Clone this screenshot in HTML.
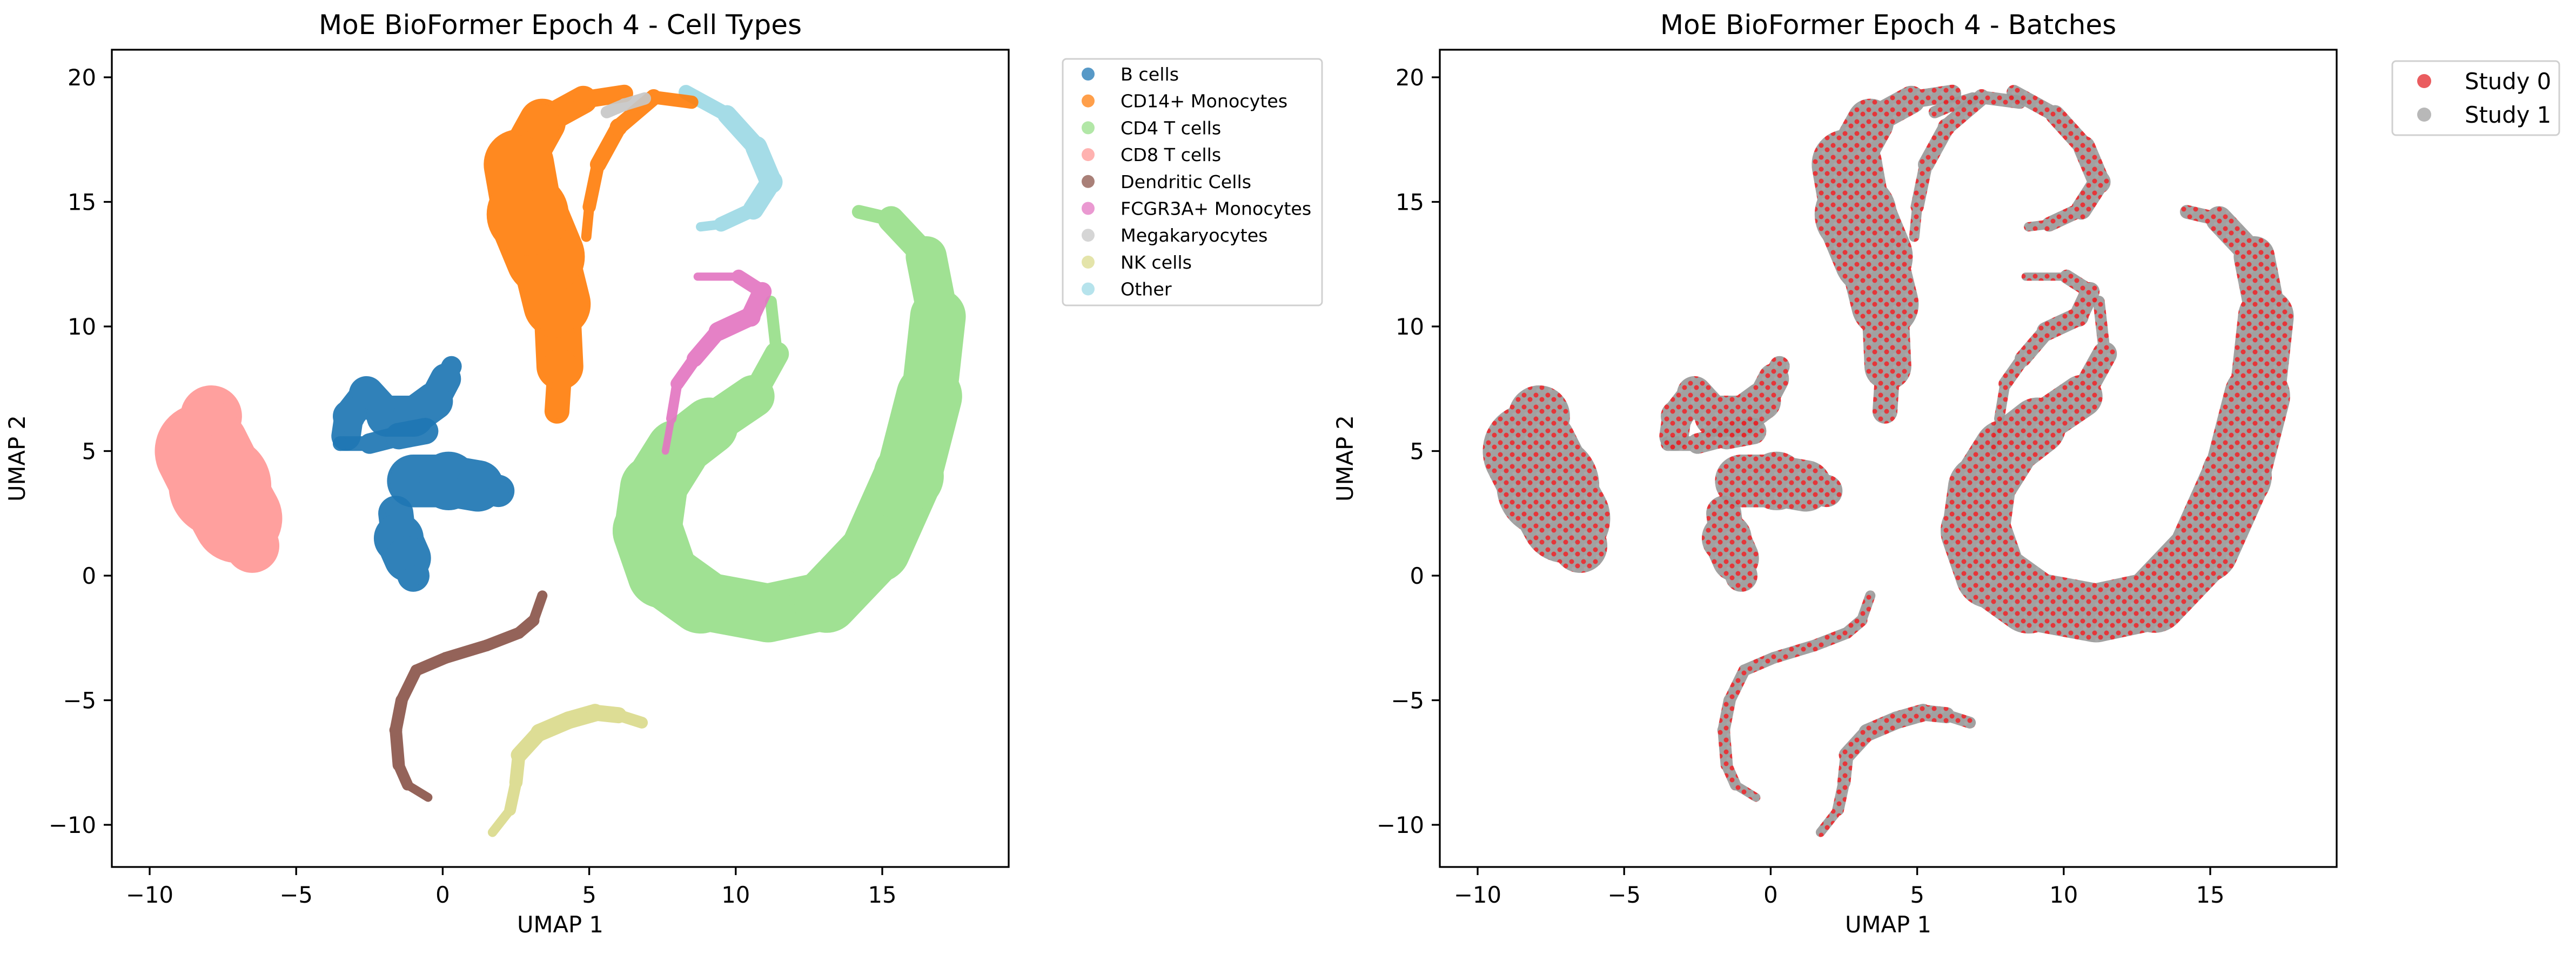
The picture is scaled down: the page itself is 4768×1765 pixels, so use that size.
<!DOCTYPE html>
<html><head><meta charset="utf-8"><style>
html,body{margin:0;padding:0;background:#fff;}
svg{display:block;font-family:"DejaVu Sans","Liberation Sans",sans-serif;}
</style></head><body>
<svg id="fig" width="4768" height="1765" viewBox="0 0 4768 1765" xmlns="http://www.w3.org/2000/svg">
<defs>
<pattern id="mix" patternUnits="userSpaceOnUse" width="22" height="22">
<rect width="22" height="22" fill="#9a9a9a"/>
<circle cx="5" cy="5" r="4.5" fill="#e3262a"/>
<circle cx="16" cy="13" r="4.5" fill="#e3262a"/>
<circle cx="9" cy="18" r="3.5" fill="#a0a0a0"/>
</pattern>
</defs>
<g id="left"></g>
<g id="right"></g>
</svg>
<script>
const xTicks = [-10, -5, 0, 5, 10, 15];
const yTicks = [-10, -5, 0, 5, 10, 15, 20];
const cellTypes = ["B cells","CD14+ Monocytes","CD4 T cells","CD8 T cells","Dendritic Cells","FCGR3A+ Monocytes","Megakaryocytes","NK cells","Other"];
const cellColors = ["#1f77b4","#ff7f0e","#98df8a","#ff9896","#8c564b","#e377c2","#c7c7c7","#dbdb8d","#9edae5"];
const batchNames = ["Study 0","Study 1"];
const batchColors = ["#e3262a","#a0a0a0"];
// cluster centerlines [x, y, halfWidth] in UMAP units
const bUpper = [[-3.3,5.6,0.45],[-3.2,6.4,0.55],[-2.6,7.3,0.5],[-1.9,6.4,0.7],[-1.0,6.4,0.7],[-0.3,7.0,0.6],[0.1,7.9,0.45],[0.3,8.4,0.25]];
const bUpper2 = [[-3.5,5.3,0.25],[-2.5,5.3,0.25],[-1.5,5.6,0.45],[-0.6,5.8,0.45]];
const bMid = [[-1.0,3.8,0.8],[0.2,3.8,1.0],[1.2,3.6,0.75],[1.9,3.4,0.35]];
const bLow = [[-1.6,2.5,0.35],[-1.5,1.5,0.85],[-1.2,0.7,0.75],[-1.0,0.0,0.35]];
const cd8 = [[-7.9,6.4,0.6],[-8.2,5.0,1.5],[-7.6,3.6,1.75],[-7.0,2.3,1.3],[-6.5,1.2,0.55]];
const dc = [[3.4,-0.8,0.15],[3.1,-1.8,0.2],[2.6,-2.3,0.2],[1.5,-2.8,0.2],[0.1,-3.3,0.2],[-0.9,-3.8,0.2],[-1.4,-5.0,0.2],[-1.6,-6.2,0.22],[-1.5,-7.6,0.2],[-1.2,-8.4,0.18],[-0.5,-8.9,0.12]];
const nk = [[1.7,-10.3,0.12],[2.3,-9.4,0.2],[2.5,-8.3,0.2],[2.6,-7.2,0.25],[3.3,-6.3,0.3],[4.3,-5.8,0.3],[5.2,-5.5,0.3],[6.0,-5.6,0.25],[6.8,-5.9,0.15]];
const cd14 = [[3.9,6.6,0.25],[4.0,8.4,0.6],[3.9,10.9,1.0],[3.5,12.8,1.3],[2.9,14.5,1.4],[2.6,16.5,1.0],[3.4,18.2,0.6],[4.8,19.1,0.35],[6.2,19.35,0.25]];
const cd14arm = [[8.5,19.0,0.2],[7.2,19.2,0.25],[6.0,18.0,0.3],[5.3,16.5,0.25],[5.0,14.8,0.2],[4.9,13.6,0.15]];
const mega = [[5.6,18.6,0.2],[6.2,18.9,0.22],[6.9,19.15,0.2]];
const other = [[8.3,19.4,0.2],[9.7,18.5,0.3],[10.7,17.2,0.35],[11.2,15.8,0.4],[10.6,14.7,0.3],[9.5,14.1,0.2],[8.8,14.0,0.12]];
const fcgr = [[8.7,12.0,0.1],[10.1,12.0,0.18],[10.9,11.4,0.3],[10.5,10.4,0.35],[9.4,9.8,0.3],[8.6,8.7,0.25],[8.0,7.7,0.2],[7.8,6.3,0.15],[7.6,5.0,0.1]];
const cd4 = [[11.2,11.0,0.12],[11.4,8.9,0.28],[10.6,7.2,0.55],[9.1,6.0,0.9],[8.0,5.0,1.05],[7.2,3.5,1.1],[7.0,1.8,1.2],[7.5,0.1,1.2],[8.8,-1.0,1.05],[11.1,-1.5,0.95],[13.1,-1.0,1.05],[14.8,1.1,1.15],[15.9,4.0,1.2],[16.6,7.2,1.05],[16.9,10.4,0.85],[16.5,12.8,0.55],[15.3,14.3,0.35],[14.2,14.6,0.12]];

const NS = "http://www.w3.org/2000/svg";
const SX = 54.24, SY = 46.1, Y0 = 1065;
function mk(tag, attrs, parent){const e=document.createElementNS(NS,tag);for(const k in attrs)e.setAttribute(k,attrs[k]);parent.appendChild(e);return e;}

function drawPanel(g, x0px, frameL, frameR, title, clusterList, legend){
  const xs = v => x0px + v*SX;
  const ys = v => Y0 - v*SY;
  const t = mk("text",{x:(frameL+frameR)/2,y:63,"font-size":50,"text-anchor":"middle",fill:"#000"},g);
  t.textContent = title;
  
  
  const plot = mk("g",{},g);
  
  
  clusterList.forEach(c=>{
    const cg = mk("g",{opacity:0.92},plot);
    
    
    const pts = c.pts;
    for(let i=0;i<pts.length-1;i++){
      const a=pts[i], b=pts[i+1];
      mk("line",{x1:xs(a[0]),y1:ys(a[1]),x2:xs(b[0]),y2:ys(b[1]),stroke:c.color,"stroke-width":(a[2]+b[2])*SX,"stroke-linecap":"round"},cg);
    }
    pts.forEach(p=>mk("circle",{cx:xs(p[0]),cy:ys(p[1]),r:p[2]*SX,fill:c.color},cg));
  });
  mk("rect",{x:frameL,y:92,width:frameR-frameL,height:1512,fill:"none",stroke:"#000","stroke-width":3.3},g);
  xTicks.forEach(v=>{
    const x=xs(v);
    const tk = mk("line",{x1:x,y1:1604,x2:x,y2:1619,stroke:"#000","stroke-width":3.3},g);
    
    
    const l = mk("text",{x:x,y:1670,"font-size":41.7,"text-anchor":"middle"},g);
    l.textContent = v<0 ? "\u2212"+(-v) : String(v);
    
    
  });
  yTicks.forEach(v=>{
    const y=ys(v);
    const tk = mk("line",{x1:frameL-15,y1:y,x2:frameL,y2:y,stroke:"#000","stroke-width":3.3},g);
    
    
    const l = mk("text",{x:frameL-29,y:y+15,"font-size":41.7,"text-anchor":"end"},g);
    l.textContent = v<0 ? "\u2212"+(-v) : String(v);
    
    
  });
  const xl = mk("text",{x:(frameL+frameR)/2,y:1725,"font-size":41.7,"text-anchor":"middle"},g);
  xl.textContent="UMAP 1";
  
  
  const yx = frameL-161;
  const yl = mk("text",{x:yx,y:848,"font-size":41.7,"text-anchor":"middle",transform:`rotate(-90 ${yx} 848)`},g);
  yl.textContent="UMAP 2";
  
  
  const lg = mk("g",{},g);
  
  
  mk("rect",{x:legend.x,y:legend.y,width:legend.w,height:legend.h,rx:7,fill:"#fff",stroke:"#d0d0d0","stroke-width":3},lg);
  legend.names.forEach((n,i)=>{
    const cy = legend.firstY + i*legend.step;
    const e = mk("g",{},lg);
    
    
    mk("circle",{cx:legend.mx,cy:cy,r:legend.mr,fill:legend.colors[i],opacity:0.75},e);
    const tx = mk("text",{x:legend.tx,y:cy+legend.fs*0.36,"font-size":legend.fs},e);
    tx.textContent = n;
  });
}

const C = cellColors;
const leftClusters = [
  {name:"cd8-t-cells",color:C[3],pts:cd8},
  {name:"b-cells-upper",color:C[0],pts:bUpper},
  {name:"b-cells-upper2",color:C[0],pts:bUpper2},
  {name:"b-cells-mid",color:C[0],pts:bMid},
  {name:"b-cells-low",color:C[0],pts:bLow},
  {name:"dendritic-cells",color:C[4],pts:dc},
  {name:"nk-cells",color:C[7],pts:nk},
  {name:"other",color:C[8],pts:other},
  {name:"cd14-monocytes",color:C[1],pts:cd14},
  {name:"cd14-monocytes-arm",color:C[1],pts:cd14arm},
  {name:"megakaryocytes",color:C[6],pts:mega},
  {name:"cd4-t-cells",color:C[2],pts:cd4},
  {name:"fcgr3a-monocytes",color:C[5],pts:fcgr}
];
drawPanel(document.getElementById("left"), 819.4, 207, 1867, "MoE BioFormer Epoch 4 - Cell Types", leftClusters,
  {x:1967,y:109,w:480,h:456,names:cellTypes,colors:cellColors,firstY:137,step:49.7,mx:2014,mr:12,tx:2074,fs:33.3});

const rightClusters = leftClusters.map(c=>({name:c.name+"-batch",color:"url(#mix)",pts:c.pts}));
drawPanel(document.getElementById("right"), 3277.4, 2665, 4325, "MoE BioFormer Epoch 4 - Batches", rightClusters,
  {x:4428,y:113,w:309,h:137,names:batchNames,colors:batchColors,firstY:150,step:62,mx:4487,mr:13,tx:4562,fs:41.7});
</script>
</body></html>
